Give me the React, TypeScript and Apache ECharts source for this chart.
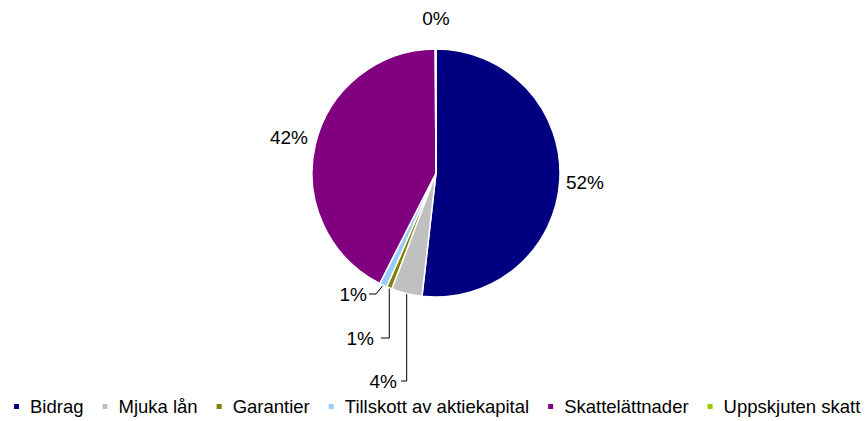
import React, { useEffect, useRef } from "react";
import * as echarts from "echarts";

const categories = ["Bidrag", "Mjuka lån", "Garantier", "Tillskott av aktiekapital", "Skattelättnader", "Uppskjuten skatt"];
const values = [51.8, 4.0, 0.7, 1.0, 42.4, 0.1];
const colors = ["#000080", "#C0C0C0", "#808000", "#99CCFF", "#800080", "#99CC00"];

// label anchor positions (x, y) and alignment
const labelPos: Record<number, { x: number; y: number; align: string; line?: number[][] }> = {
  0: { x: 585, y: 182, align: "center" },
  1: { x: 397, y: 381, align: "right", line: [[0, 381], [401, 381]] },
  2: { x: 374, y: 338, align: "right", line: [[0, 338], [381, 338]] },
  3: { x: 367, y: 294, align: "right", line: [[376, 294], [369, 294]] },
  4: { x: 289, y: 137, align: "center" },
  5: { x: 436, y: 18, align: "center" },
};

const FONT = "Liberation Sans, Arial, sans-serif";

export default function App() {
  const ref = useRef<HTMLDivElement>(null);
  useEffect(() => {
    document.body.style.margin = "0";
    const chart = echarts.init(ref.current!, null, { renderer: "svg" });
    chart.setOption({
      animation: false,
      backgroundColor: "#ffffff",
      textStyle: { fontFamily: FONT },
      legend: {
        top: 397,
        left: 12,
        width: 860,
        padding: 0,
        itemWidth: 7,
        itemHeight: 7,
        itemGap: 17,
        icon: "rect",
        textStyle: { fontSize: 18.5, color: "#000", fontFamily: FONT, padding: [0, 0, 0, 5] },
        data: categories,
      },
      series: [
        {
          type: "pie",
          center: [436, 173],
          radius: 124,
          startAngle: 90,
          clockwise: true,
          percentPrecision: 0,
          avoidLabelOverlap: false,
          itemStyle: { borderColor: "#ffffff", borderWidth: 1.5 },
          label: {
            show: true,
            position: "outside",
            formatter: "{d}%",
            fontSize: 19,
            color: "#000",
            fontFamily: FONT,
          },
          labelLine: { show: true, length: 10, length2: 10, lineStyle: { color: "#000", width: 1 } },
          labelLayout: (params: any) => {
            const p = labelPos[params.dataIndex];
            const out: any = { x: p.x, y: p.y, align: p.align, verticalAlign: "middle" };
            if (p.line && params.labelLinePoints) {
              const start = params.labelLinePoints[0];
              const pts = p.line.map((pt) => [pt[0] === 0 ? start[0] : pt[0], pt[1]]);
              out.labelLinePoints = [start, ...pts];
            }
            return out;
          },
          data: categories.map((name, i) => ({
            name,
            value: values[i],
            itemStyle: { color: colors[i] },
            labelLine: { show: !!labelPos[i].line },
          })),
        },
      ],
    });
    return () => chart.dispose();
  }, []);
  return <div ref={ref} style={{ width: 865, height: 421 }} />;
}
